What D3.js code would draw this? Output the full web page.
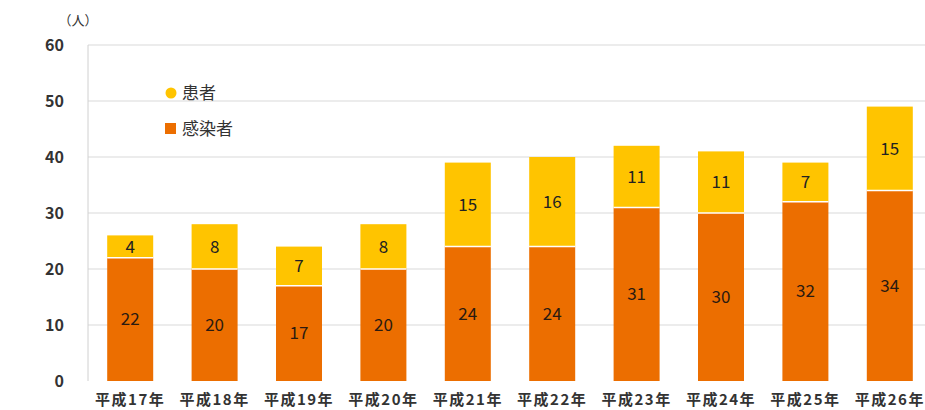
<!DOCTYPE html>
<html>
<head>
<meta charset="utf-8">
<script src="https://cdn.jsdelivr.net/npm/d3@7"></script>
<style>
  body { margin: 0; background: #fff; }
  text { font-family: "Noto Sans CJK JP", "Noto Sans", sans-serif; }
</style>
</head>
<body>
<div id="chart"></div>
<script>
// data
const years = ["平成17年", "平成18年", "平成19年", "平成20年", "平成21年", "平成22年", "平成23年", "平成24年", "平成25年", "平成26年"];
const infected = [22, 20, 17, 20, 24, 24, 31, 30, 32, 34];
const patients = [4, 8, 7, 8, 15, 16, 11, 11, 7, 15];
const yTicks = [0, 10, 20, 30, 40, 50, 60];

const width = 925;
const height = 410;
const margin = { top: 45, right: -7, bottom: 29, left: 88 };

const svg = d3.select("#chart")
  .append("svg")
  .attr("width", width)
  .attr("height", height);

const x = d3.scaleBand()
  .domain(years)
  .range([margin.left, width - margin.right])
  .paddingInner(0.455)
  .paddingOuter(0.2275);

const y = d3.scaleLinear()
  .domain([0, 60])
  .range([height - margin.bottom, margin.top]);

// gridlines
svg.append("g")
  .selectAll("line")
  .data(yTicks.slice(1))
  .join("line")
  .attr("x1", margin.left)
  .attr("x2", width)
  .attr("y1", d => y(d))
  .attr("y2", d => y(d))
  .attr("stroke", "#d9d9d9")
  .attr("stroke-width", 1);

// y axis line
svg.append("line")
  .attr("x1", margin.left)
  .attr("x2", margin.left)
  .attr("y1", y(60))
  .attr("y2", y(0))
  .attr("stroke", "#d0d0d0");

// y tick labels
svg.append("g")
  .selectAll("text")
  .data(yTicks)
  .join("text")
  .attr("x", 64)
  .attr("y", d => y(d))
  .attr("dy", "0.35em")
  .attr("text-anchor", "end")
  .attr("font-size", 16)
  .attr("font-weight", "bold")
  .attr("fill", "#333")
  .text(d => d);

svg.append("text")
  .attr("x", 78)
  .attr("y", 25)
  .attr("text-anchor", "middle")
  .attr("font-size", 13)
  .attr("fill", "#333")
  .text("（人）");

// stacked bars
const stacked = years.map((yr, i) => ({ year: yr, infected: infected[i], patients: patients[i] }));

const bars = svg.append("g")
  .selectAll("g")
  .data(stacked)
  .join("g");

bars.append("rect")
  .attr("x", d => x(d.year))
  .attr("width", x.bandwidth())
  .attr("y", d => y(d.infected))
  .attr("height", d => y(0) - y(d.infected))
  .attr("fill", "#EC6E00");

bars.append("rect")
  .attr("x", d => x(d.year))
  .attr("width", x.bandwidth())
  .attr("y", d => y(d.infected + d.patients))
  .attr("height", d => y(d.infected) - y(d.infected + d.patients))
  .attr("fill", "#FFC400");

// separator between segments
bars.append("line")
  .attr("x1", d => x(d.year))
  .attr("x2", d => x(d.year) + x.bandwidth())
  .attr("y1", d => y(d.infected))
  .attr("y2", d => y(d.infected))
  .attr("stroke", "#fff")
  .attr("stroke-width", 1.5);

bars.append("text")
  .attr("x", d => x(d.year) + x.bandwidth() / 2)
  .attr("y", d => y(d.infected / 2))
  .attr("dy", "0.35em")
  .attr("text-anchor", "middle")
  .attr("font-size", 17)
  .attr("fill", "#2a1a10")
  .text(d => d.infected);

bars.append("text")
  .attr("x", d => x(d.year) + x.bandwidth() / 2)
  .attr("y", d => y(d.infected + d.patients / 2))
  .attr("dy", "0.35em")
  .attr("text-anchor", "middle")
  .attr("font-size", 17)
  .attr("fill", "#222")
  .text(d => d.patients);

// x labels
svg.append("g")
  .selectAll("text")
  .data(years)
  .join("text")
  .attr("x", d => x(d) + x.bandwidth() / 2)
  .attr("y", 405)
  .attr("text-anchor", "middle")
  .attr("font-size", 15)
  .attr("letter-spacing", 1.5)
  .attr("font-weight", "bold")
  .attr("fill", "#333")
  .text(d => d);

// legend
const legend = svg.append("g");
legend.append("circle")
  .attr("cx", 171)
  .attr("cy", 93)
  .attr("r", 5.5)
  .attr("fill", "#FFC400");
legend.append("text")
  .attr("x", 182)
  .attr("y", 93)
  .attr("dy", "0.35em")
  .attr("font-size", 17)
  .attr("fill", "#333")
  .text("患者");
legend.append("rect")
  .attr("x", 165)
  .attr("y", 123)
  .attr("width", 11)
  .attr("height", 11)
  .attr("fill", "#EC6E00");
legend.append("text")
  .attr("x", 182)
  .attr("y", 129)
  .attr("dy", "0.35em")
  .attr("font-size", 17)
  .attr("fill", "#333")
  .text("感染者");
</script>
</body>
</html>
